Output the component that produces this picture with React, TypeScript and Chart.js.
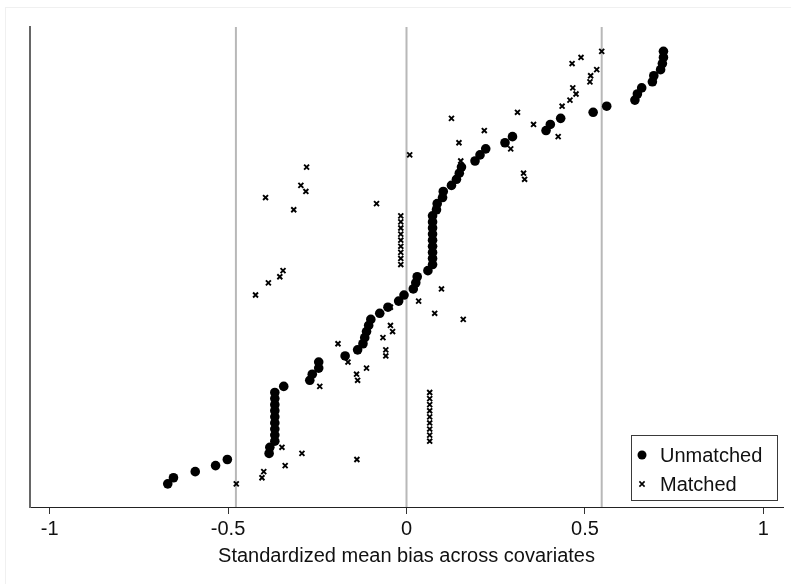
import { useEffect, useRef } from "react";
import { Chart, registerables } from "chart.js";

Chart.register(...registerables);

// Standardized mean bias per covariate, sorted by the unmatched bias (index = covariate rank)
const unmatchedBias = [
  -0.669, -0.653, -0.592, -0.535, -0.502, -0.385, -0.383,
  -0.369, -0.369, -0.369, -0.369, -0.369, -0.369, -0.369, -0.369, -0.369,
  -0.344, -0.271, -0.264, -0.246, -0.246, -0.172, -0.137, -0.122, -0.117, -0.112,
  -0.106, -0.100, -0.075, -0.052, -0.022, -0.007, 0.019, 0.026, 0.030, 0.060,
  0.073, 0.073, 0.073, 0.073, 0.073, 0.073, 0.073, 0.073, 0.073,
  0.084, 0.086, 0.101, 0.103, 0.126, 0.140, 0.148, 0.154, 0.192, 0.206,
  0.222, 0.276, 0.297, 0.391, 0.403, 0.432, 0.523, 0.561, 0.640, 0.647,
  0.659, 0.689, 0.693, 0.712, 0.717, 0.720, 0.720,
];

const matchedBias = [
  -0.477, -0.405, -0.400, -0.340, -0.139, -0.293, -0.349,
  0.065, 0.065, 0.065, 0.065, 0.065, 0.065, 0.065, 0.065, 0.065,
  -0.243, -0.137, -0.140, -0.112, -0.164, -0.058, -0.058, -0.192, -0.066, -0.039,
  -0.045, 0.159, 0.079, -0.045, 0.034, -0.423, 0.098, -0.387, -0.355, -0.346,
  -0.016, -0.016, -0.016, -0.016, -0.016, -0.016, -0.016, -0.016, -0.016,
  -0.316, -0.084, -0.395, -0.282, -0.296, 0.331, 0.328, -0.280, 0.152, 0.009,
  0.292, 0.147, 0.425, 0.218, 0.356, 0.126, 0.311, 0.436, 0.458, 0.475,
  0.466, 0.514, 0.516, 0.533, 0.464, 0.489, 0.547,
];

const referenceLines = [-0.478, 0, 0.547];
const xTickValues = [-1, -0.5, 0, 0.5, 1];
const xTickLabels = ["-1", "-0.5", "0", "0.5", "1"];
const seriesNames = ["Unmatched", "Matched"];
const xAxisTitle = "Standardized mean bias across covariates";

const X_MIN = -1.055;
const X_MAX = 1.055;
const Y_MIN = -2.8;
const Y_MAX = 76;

const FONT = "'Liberation Sans', Arial, Helvetica, sans-serif";

const legendPlugin = {
  id: "insideLegend",
  afterDraw(chart: any) {
    const ctx = chart.ctx as CanvasRenderingContext2D;
    const area = chart.chartArea;
    const boxW = 146;
    const boxH = 65;
    const x0 = area.right - 6 - boxW;
    const y0 = area.bottom - 7 - boxH;
    ctx.save();
    ctx.fillStyle = "#ffffff";
    ctx.fillRect(x0, y0, boxW, boxH);
    ctx.strokeStyle = "#3a3a3a";
    ctx.lineWidth = 1;
    ctx.strokeRect(x0 + 0.5, y0 + 0.5, boxW, boxH);
    // marker 1: filled circle
    ctx.fillStyle = "#000";
    ctx.beginPath();
    ctx.arc(x0 + 11, y0 + 20, 4.5, 0, Math.PI * 2);
    ctx.fill();
    // marker 2: small x
    ctx.strokeStyle = "#000";
    ctx.lineWidth = 1.6;
    const cx = x0 + 11;
    const cy = y0 + 49;
    const r = 2.6;
    ctx.beginPath();
    ctx.moveTo(cx - r, cy - r);
    ctx.lineTo(cx + r, cy + r);
    ctx.moveTo(cx + r, cy - r);
    ctx.lineTo(cx - r, cy + r);
    ctx.stroke();
    ctx.fillStyle = "#111";
    ctx.font = `20px ${FONT}`;
    ctx.textBaseline = "alphabetic";
    ctx.textAlign = "left";
    ctx.fillText(seriesNames[0], x0 + 29, y0 + 27);
    ctx.fillText(seriesNames[1], x0 + 29, y0 + 56);
    ctx.restore();
  },
};

export default function App() {
  const canvasRef = useRef<HTMLCanvasElement | null>(null);

  useEffect(() => {
    if (!canvasRef.current) return;
    const refDatasets = referenceLines.map((v) => ({
      type: "line" as const,
      label: "ref",
      data: [
        { x: v, y: Y_MIN },
        { x: v, y: Y_MAX },
      ],
      borderColor: "#b8b8b8",
      borderWidth: 2,
      pointRadius: 0,
      showLine: true,
      order: 10,
    }));
    const chart = new Chart(canvasRef.current, {
      type: "scatter",
      data: {
        datasets: [
          ...refDatasets,
          {
            label: seriesNames[0],
            data: unmatchedBias.map((v, i) => ({ x: v, y: i + 1 })),
            pointStyle: "circle",
            pointRadius: 4.8,
            backgroundColor: "#000",
            borderColor: "#000",
            borderWidth: 0,
            order: 2,
          },
          {
            label: seriesNames[1],
            data: matchedBias.map((v, i) => ({ x: v, y: i + 1 })),
            pointStyle: "crossRot",
            pointRadius: 3.5,
            borderColor: "#000",
            backgroundColor: "#000",
            borderWidth: 1.9,
            order: 1,
          },
        ] as any,
      },
      options: {
        animation: false,
        responsive: false,
        devicePixelRatio: 1,
        layout: { padding: { left: 30, right: 8, top: 27, bottom: 16 } },
        plugins: {
          legend: { display: false },
          tooltip: { enabled: false },
        },
        scales: {
          x: {
            type: "linear",
            min: X_MIN,
            max: X_MAX,
            afterBuildTicks: (scale: any) => {
              scale.ticks = xTickValues.map((v) => ({ value: v }));
            },
            ticks: {
              color: "#111",
              font: { family: FONT, size: 20 },
              padding: 3,
              maxRotation: 0,
              autoSkip: false,
              callback: (value: any) => {
                const idx = xTickValues.indexOf(Number(value));
                return idx >= 0 ? xTickLabels[idx] : "";
              },
            },
            grid: {
              display: true,
              drawOnChartArea: false,
              drawTicks: true,
              tickLength: 7,
              color: "#333",
              lineWidth: 1,
            },
            border: { display: true, color: "#222", width: 1 },
            title: {
              display: true,
              text: xAxisTitle,
              color: "#111",
              font: { family: FONT, size: 20 },
              padding: { top: 0, bottom: 0 },
            },
          },
          y: {
            type: "linear",
            min: Y_MIN,
            max: Y_MAX,
            ticks: { display: false },
            grid: { display: false, drawTicks: false },
            border: { display: true, color: "#666", width: 2 },
          },
        },
      },
      plugins: [legendPlugin],
    });
    return () => chart.destroy();
  }, []);

  return (
    <div
      style={{
        position: "fixed",
        left: 0,
        top: 0,
        width: 791,
        height: 584,
        background: "#fff",
        overflow: "hidden",
      }}
    >
      <div
        style={{
          position: "absolute",
          left: 5,
          top: 7,
          width: 800,
          height: 600,
          borderLeft: "1px solid #f0f0f0",
          borderTop: "1px solid #f0f0f0",
        }}
      />
      <canvas
        ref={canvasRef}
        width={791}
        height={584}
        style={{ position: "absolute", left: 0, top: 0, width: 791, height: 584 }}
      />
    </div>
  );
}
